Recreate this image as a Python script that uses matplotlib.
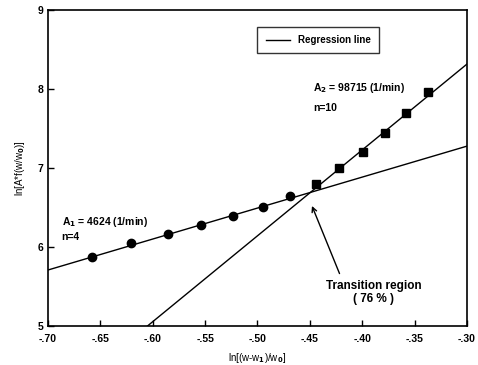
import numpy as np
import matplotlib
matplotlib.use("Agg")
from matplotlib import pyplot as plt
from matplotlib.ticker import FuncFormatter

plt.rcParams['font.family'] = ['Liberation Sans', 'DejaVu Sans']
plt.rcParams['font.weight'] = 'bold'

# data
x_low = [-0.658, -0.621, -0.585, -0.554, -0.523, -0.495, -0.469]
y_low = [5.873, 6.051, 6.165, 6.278, 6.392, 6.506, 6.646]
x_high = [-0.444, -0.422, -0.399, -0.378, -0.358, -0.337]
y_high = [6.797, 7.000, 7.203, 7.443, 7.696, 7.962]

# regression lines: (slope, intercept)
reg_low = (3.92, 8.453)
reg_high = (10.87, 11.577)

fig = plt.figure(figsize=(4.78, 3.65), dpi=100)
ax = fig.add_axes([0.1004, 0.1068, 0.8766, 0.8658])

xs = np.array([-0.70, -0.30])
line, = ax.plot(xs, reg_low[0] * xs + reg_low[1], color='black', lw=1.0)
x0 = (5 - reg_high[1]) / reg_high[0]
xs2 = np.array([x0, -0.30])
ax.plot(xs2, reg_high[0] * xs2 + reg_high[1], color='black', lw=1.0)

ax.plot(x_low, y_low, 'o', color='black', ms=6)
ax.plot(x_high, y_high, 's', color='black', ms=5.5)

ax.set_xlim(-0.70, -0.30)
ax.set_ylim(5, 9)
ax.set_xticks(np.arange(-0.70, -0.29, 0.05))
ax.set_yticks([5, 6, 7, 8, 9])
ax.xaxis.set_major_formatter(FuncFormatter(lambda v, p: ('-' if v < 0 else '') + ('%.2f' % abs(v)).lstrip('0')))
ax.tick_params(direction='in', length=4, width=1, labelsize=7.5, pad=3)
ax.tick_params(axis='x', pad=6)
for s in ax.spines.values():
    s.set_linewidth(1.2)

ax.set_xlabel(r'ln[(w-w$_1$)/w$_0$]', fontsize=7, labelpad=5)
ax.set_ylabel(r'ln[A*f(w/w$_0$)]', fontsize=7, labelpad=8)

leg = ax.legend([line], ['Regression line'], loc='upper left', bbox_to_anchor=(0.488, 0.962),
                fontsize=7, frameon=True, fancybox=False, edgecolor='black',
                handlelength=2.5, borderpad=0.85)
leg.get_frame().set_linewidth(1.0)

ax.text(-0.687, 6.317, r'A$_1$ = 4624 (1/min)', fontsize=7.5, va='center')
ax.text(-0.687, 6.127, 'n=4', fontsize=7.5, va='center')
ax.text(-0.447, 8.013, r'A$_2$ = 98715 (1/min)', fontsize=7.5, va='center')
ax.text(-0.447, 7.76, 'n=10', fontsize=7.5, va='center')

ax.annotate('Transition region\n( 76 % )', xy=(-0.448, 6.52), xytext=(-0.389, 5.58),
            fontsize=8.5, fontweight='bold', ha='center', va='top', linespacing=1.1,
            arrowprops=dict(arrowstyle='->', color='black', lw=1.0, shrinkA=3, shrinkB=0,
                            relpos=(0.17, 1.0)))

fig.savefig('out.png', dpi=100)
